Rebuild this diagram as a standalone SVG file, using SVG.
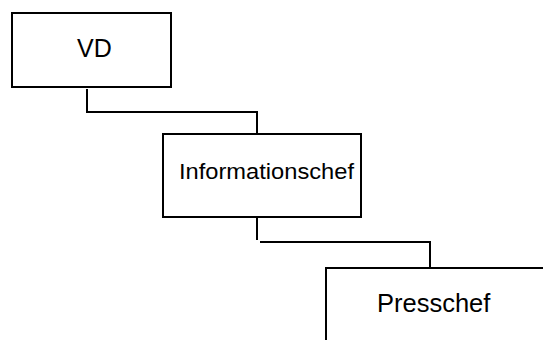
<svg xmlns="http://www.w3.org/2000/svg" width="543" height="340" viewBox="0 0 543 340">
  <style>
    .box { fill: #ffffff; stroke: #000000; stroke-width: 2; }
    .link { fill: none; stroke: #000000; stroke-width: 2; }
    .label { font-family: "Liberation Sans", Arial, sans-serif; fill: #000000; }
  </style>
  <rect width="543" height="340" fill="#ffffff"/>

  <g id="connectors">
    <path class="link" d="M87 89 V112 H257 V133"/>
    <path class="link" d="M257 218 V240"/>
    <path class="link" d="M260 242 H430 V267"/>
  </g>

  <g id="node-vd">
    <rect class="box" x="12" y="13" width="159" height="74"/>
    <text class="label" x="77" y="57" font-size="25">VD</text>
  </g>

  <g id="node-informationschef">
    <rect class="box" x="163" y="134" width="198" height="83"/>
    <text class="label" x="179" y="178.5" font-size="22" textLength="175" lengthAdjust="spacingAndGlyphs">Informationschef</text>
  </g>

  <g id="node-presschef">
    <path class="box" d="M326 341 V268 H544"/>
    <text class="label" x="377" y="311.5" font-size="25.5">Presschef</text>
  </g>
</svg>
